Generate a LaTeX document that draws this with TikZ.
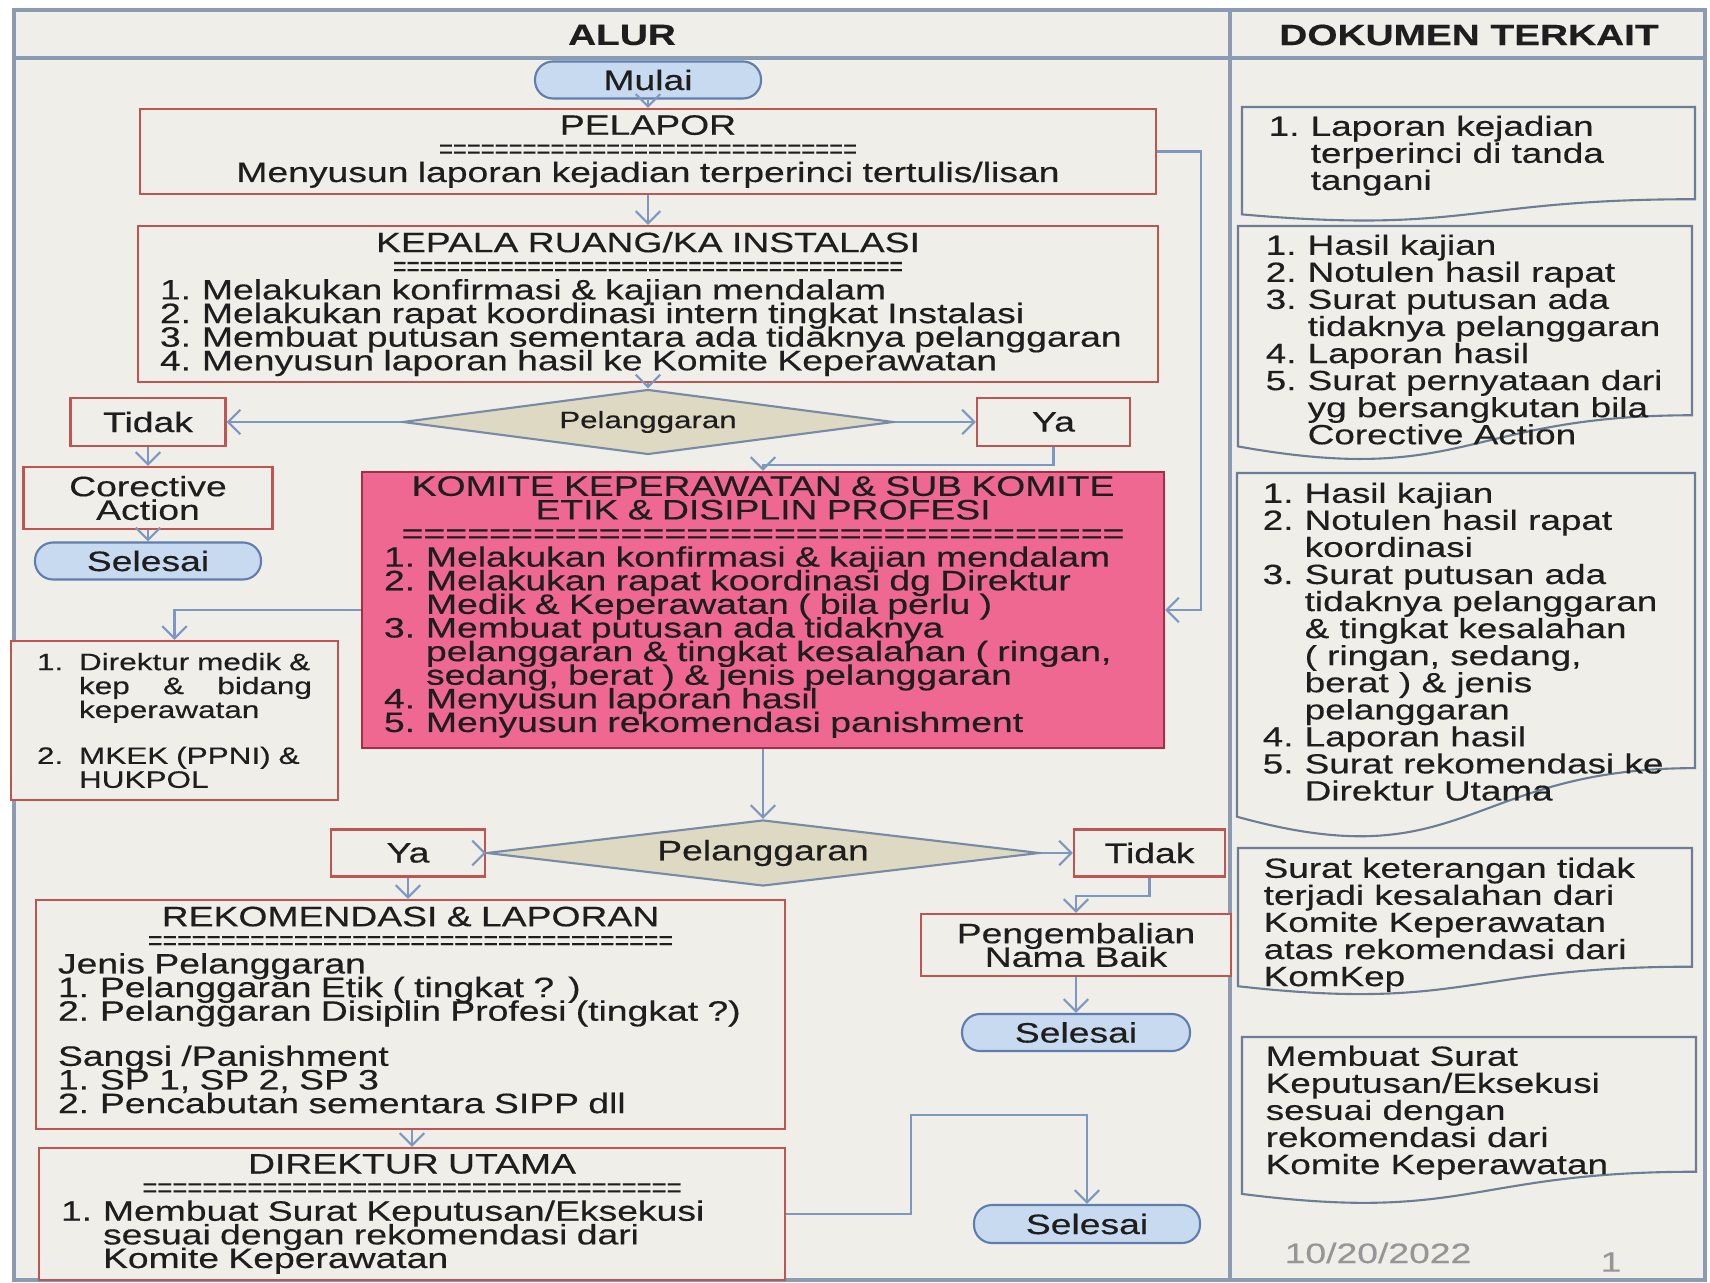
\documentclass[tikz,border=0pt]{standalone}
\usepackage{fontspec}
\setmainfont{Liberation Sans}[FakeStretch=1.33, FakeBold=0.4]
\usepackage{graphicx}
\usepackage{tikz}
\usetikzlibrary{shapes.geometric, arrows.meta}

\definecolor{bgcol}{RGB}{240,238,232}
\definecolor{framecol}{RGB}{140,155,180}
\definecolor{boxline}{RGB}{190,85,80}
\definecolor{termfill}{RGB}{200,218,240}
\definecolor{termline}{RGB}{95,125,175}
\definecolor{decfill}{RGB}{221,217,195}
\definecolor{decline}{RGB}{120,138,165}
\definecolor{komfill}{RGB}{238,104,146}
\definecolor{komline}{RGB}{165,45,70}
\definecolor{arrowcol}{RGB}{125,152,192}
\definecolor{doccol}{RGB}{110,125,150}
\definecolor{txtcol}{RGB}{30,30,30}
\definecolor{datecol}{RGB}{150,150,150}

\newcommand{\flowfont}{\fontsize{7.98}{6.72}\selectfont\lineskiplimit=-20pt}
\newcommand{\smallfont}{\fontsize{6.74}{6.8}\selectfont\lineskiplimit=-20pt}
\newcommand{\docfont}{\fontsize{7.89}{7.7}\selectfont\lineskiplimit=-20pt}
\newcommand{\headfont}{\fontsize{8.3}{9}\selectfont\bfseries}
\newcommand{\nr}[1]{\makebox[0.42cm][l]{#1}}
\newcommand{\nx}{\hspace*{0.42cm}}
\newcommand{\eqline}[2]{\resizebox{#2}{\height}{\foreach \i in {1,...,#1}{=}}}
\newcommand{\docbox}[4]{\draw[docline] (#1,#3) -- (#2,#3) -- (#2,{#3-0.802*#4})
  .. controls ({(#1+#2)/2},{#3-0.802*#4}) and ({(#1+#2)/2},{#3-1.107*#4}) .. (#1,{#3-0.934*#4}) -- cycle;}

\tikzstyle{boundingbox} = [line width=0.9pt, draw=framecol]
\tikzstyle{headtext} = [font=\headfont, text=txtcol]
\tikzstyle{flowbox} = [draw=boxline, fill=bgcol, line width=0.6pt, inner xsep=0.22cm, inner ysep=0pt, font=\flowfont, text=txtcol]
\tikzstyle{choicebox} = [draw=boxline, fill=bgcol, line width=0.6pt, inner sep=0pt, font=\flowfont, text=txtcol, align=center]
\tikzstyle{terminal} = [draw=termline, fill=termfill, line width=0.6pt, rounded corners=1.8mm, minimum width=2.26cm, minimum height=0.37cm, inner sep=0pt, font=\flowfont, text=txtcol]
\tikzstyle{decision} = [diamond, aspect=7.5, draw=decline, fill=decfill, line width=0.6pt, inner sep=0pt, font=\flowfont, text=txtcol]
\tikzstyle{flowarrow} = [draw=arrowcol, line width=0.6pt, -{Straight Barb[length=3.5pt,width=7pt]}]
\tikzstyle{docline} = [draw=doccol, fill=bgcol, line width=0.6pt]
\tikzstyle{doctext} = [font=\docfont, text=txtcol, align=left, inner sep=0pt, anchor=north west]
\tikzstyle{datetext} = [font=\flowfont, text=datecol]

\begin{document}
\begin{tikzpicture}
\useasboundingbox (0,0) rectangle (17.10,-12.83);
\fill[white] (0,0) rectangle (17.10,-12.83);
\draw[boundingbox, fill=bgcol] (0.14,-0.10) rectangle (17.05,-12.80);
\draw[boundingbox] (0.14,-0.58) -- (17.05,-0.58);
\draw[boundingbox] (12.30,-0.10) -- (12.30,-12.80);

\node[headtext] (alur) at (6.22,-0.35) {ALUR};
\node[headtext] (dokumen) at (14.69,-0.35) {DOKUMEN TERKAIT};

% alur
\node[terminal] (mulai) at (6.48,-0.80) {Mulai};
\node[flowbox, align=center, text width=9.72cm, minimum height=0.85cm] (pelapor) at (6.48,-1.515)
  {PELAPOR\\ \eqline{30}{4.18cm}\\ Menyusun laporan kejadian terperinci tertulis/lisan};
\node[flowbox, text width=9.76cm, minimum height=1.56cm] (kepala) at (6.48,-3.04)
  {{\centering KEPALA RUANG/KA INSTALASI\\ \eqline{38}{5.10cm}\par}
   \nr{1.}Melakukan konfirmasi \& kajian mendalam\\
   \nr{2.}Melakukan rapat koordinasi intern tingkat Instalasi\\
   \nr{3.}Membuat putusan sementara ada tidaknya pelanggaran\\
   \nr{4.}Menyusun laporan hasil ke Komite Keperawatan};
\node[decision, font=\fontsize{6.69}{7}\selectfont, minimum width=4.91cm, minimum height=0.65cm] (dia1) at (6.48,-4.22) {Pelanggaran};
\node[choicebox, minimum width=1.55cm, minimum height=0.48cm] (tidak1) at (1.48,-4.22) {Tidak};
\node[choicebox, minimum width=1.53cm, minimum height=0.48cm] (ya1) at (10.535,-4.22) {Ya};
\node[choicebox, minimum width=2.49cm, minimum height=0.62cm] (corective) at (1.48,-4.98) {Corective\\Action};
\node[terminal] (selesai1) at (1.48,-5.61) {Selesai};

\node[flowbox, fill=komfill, draw=komline, text width=7.58cm, minimum height=2.76cm] (komite) at (7.63,-6.10)
  {{\centering KOMITE KEPERAWATAN \& SUB KOMITE\\ ETIK \& DISIPLIN PROFESI\\ \eqline{33}{7.23cm}\par}
   \nr{1.}Melakukan konfirmasi \& kajian mendalam\\
   \nr{2.}Melakukan rapat koordinasi dg Direktur\\
   \nx Medik \& Keperawatan ( bila perlu )\\
   \nr{3.}Membuat putusan ada tidaknya\\
   \nx pelanggaran \& tingkat kesalahan ( ringan,\\
   \nx sedang, berat ) \& jenis pelanggaran\\
   \nr{4.}Menyusun laporan hasil\\
   \nr{5.}Menyusun rekomendasi panishment\par\vspace*{0.06cm}};
\node[flowbox, font=\smallfont, text width=2.75cm, inner xsep=0.26cm, minimum height=1.59cm] (penerima) at (1.745,-7.205)
  {\nr{1.}Direktur medik \&\\
   \nx\hbox to 2.33cm{kep\hfill\&\hfill bidang}\\
   \nx keperawatan\\[0.22cm]
   \nr{2.}MKEK (PPNI) \&\\
   \nx HUKPOL};

\node[decision, minimum width=5.53cm, minimum height=0.66cm] (dia2) at (7.63,-8.53) {Pelanggaran};
\node[choicebox, minimum width=1.54cm, minimum height=0.47cm] (ya2) at (4.08,-8.53) {Ya};
\node[choicebox, minimum width=1.51cm, minimum height=0.47cm] (tidak2) at (11.495,-8.53) {Tidak};
\node[choicebox, minimum width=3.10cm, minimum height=0.62cm] (pengembalian) at (10.76,-9.45) {Pengembalian\\Nama Baik};
\node[terminal, minimum width=2.28cm] (selesai2) at (10.76,-10.325) {Selesai};

\node[flowbox, text width=7.05cm, minimum height=2.29cm] (rekomendasi) at (4.105,-10.145)
  {{\centering REKOMENDASI \& LAPORAN\\ \eqline{36}{5.25cm}\par}
   Jenis Pelanggaran\\
   \nr{1.}Pelanggaran Etik ( tingkat ? )\\
   \nr{2.}Pelanggaran Disiplin Profesi (tingkat ?)\\[0.215cm]
   Sangsi /Panishment\\
   \nr{1.}SP 1, SP 2, SP 3\\
   \nr{2.}Pencabutan sementara SIPP dll\par\vspace*{0.09cm}};
\node[flowbox, text width=7.02cm, minimum height=1.32cm] (direktur) at (4.12,-12.14)
  {{\centering DIREKTUR UTAMA\\ \eqline{36}{5.39cm}\par}
   \nr{1.}Membuat Surat Keputusan/Eksekusi\\
   \nx sesuai dengan rekomendasi dari\\
   \nx Komite Keperawatan};
\node[terminal, minimum height=0.38cm] (selesai3) at (10.87,-12.24) {Selesai};
\coordinate (bend) at (9.11,-11.15);

\path[flowarrow] (mulai) -- (pelapor);
\path[flowarrow] (pelapor) -- (kepala);
\path[flowarrow] (kepala) -- (dia1);
\path[flowarrow] (dia1.west) -- (tidak1.east);
\path[flowarrow] (dia1.east) -- (ya1.west);
\path[flowarrow] (tidak1) -- (corective);
\path[flowarrow] (corective) -- (selesai1);
\path[flowarrow] (ya1.south) -- ++(0,-0.18) -| (komite.north);
\path[flowarrow] (pelapor.east) -- ++(0.44,0) |- (komite.east);
\path[flowarrow] (komite.west) -| (penerima.north);
\path[flowarrow] (komite) -- (dia2);
\path[flowarrow] (dia2.west) -- (ya2.east);
\path[flowarrow] (dia2.east) -- (tidak2.west);
\path[flowarrow] (tidak2.south) -- ++(0,-0.18) -| (pengembalian.north);
\path[flowarrow] (pengembalian) -- (selesai2);
\path[flowarrow] (ya2) -- (ya2 |- rekomendasi.north);
\path[flowarrow] (rekomendasi.south -| direktur.north) -- (direktur.north);
\path[flowarrow] (direktur.east) -| (bend) -| (selesai3.north);

% dokumen terkait
\docbox{12.42}{16.95}{-1.07}{1.15}
\docbox{12.38}{16.92}{-2.26}{2.36}
\docbox{12.37}{16.95}{-4.73}{3.68}
\docbox{12.38}{16.92}{-8.48}{1.48}
\docbox{12.42}{16.96}{-10.37}{1.68}

\node[doctext] (dok1) at (12.68,-1.15)
  {\nr{1.}Laporan kejadian\\ \nx terperinci di tanda\\ \nx tangani};
\node[doctext] (dok2) at (12.65,-2.34)
  {\nr{1.}Hasil kajian\\ \nr{2.}Notulen hasil rapat\\ \nr{3.}Surat putusan ada\\ \nx tidaknya pelanggaran\\
   \nr{4.}Laporan hasil\\ \nr{5.}Surat pernyataan dari\\ \nx yg bersangkutan bila\\ \nx Corective Action};
\node[doctext] (dok3) at (12.62,-4.82)
  {\nr{1.}Hasil kajian\\ \nr{2.}Notulen hasil rapat\\ \nx koordinasi\\ \nr{3.}Surat putusan ada\\
   \nx tidaknya pelanggaran\\ \nx \& tingkat kesalahan\\ \nx ( ringan, sedang,\\ \nx berat ) \& jenis\\
   \nx pelanggaran\\ \nr{4.}Laporan hasil\\ \nr{5.}Surat rekomendasi ke\\ \nx Direktur Utama};
\node[doctext] (dok4) at (12.63,-8.57)
  {Surat keterangan tidak\\ terjadi kesalahan dari\\ Komite Keperawatan\\ atas rekomendasi dari\\ KomKep};
\node[doctext] (dok5) at (12.65,-10.45)
  {Membuat Surat\\ Keputusan/Eksekusi\\ sesuai dengan\\ rekomendasi dari\\ Komite Keperawatan};

\node[datetext] (tanggal) at (13.78,-12.53) {10/20/2022};
\node[datetext] (halaman) at (16.11,-12.62) {1};
\end{tikzpicture}
\end{document}
